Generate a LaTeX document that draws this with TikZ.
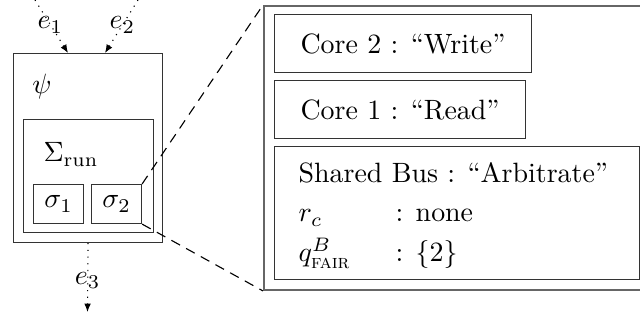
\documentclass[tikz,border=0pt]{standalone}
\usepackage{amsmath}
\usepackage{tikz}
\usetikzlibrary{calc,arrows.meta}
\newcommand{\pxu}{0.358pt}

\begin{document}
\begin{tikzpicture}[x=\pxu,y=\pxu,
  box/.style={draw=black!80,inner sep=0pt,anchor=north west},
  edge/.style={dotted,-{Latex[length=3pt,width=2.4pt]}}]
  \useasboundingbox (0,0) rectangle (640,320);
  \clip (0,0) rectangle (640,320);
  % process and its run
  \node[box,minimum width=149*\pxu,minimum height=189*\pxu] (psi) at (13,267) {};
  \node[box,minimum width=130*\pxu,minimum height=113*\pxu] (run) at (23,201) {};
  \node[box,minimum width=50*\pxu,minimum height=39*\pxu] (sig1) at (33,136) {$\sigma_1$};
  \node[box,minimum width=50*\pxu,minimum height=39*\pxu] (sig2) at (91,136) {$\sigma_2$};
  \node (psilab) at (42,233) {$\psi$};
  \node[anchor=base west,inner sep=0pt] (runlab) at (43,158) {$\Sigma_{\text{run}}$};
  \coordinate (in1) at (35,320);
  \coordinate (in2) at (138,320);
  \coordinate (out) at (87.5,8);
  \draw[edge] (in1) -- ($(psi.north west)+(55,0)$) node[pos=0.47] (e1) {$e_1$};
  \draw[edge] (in2) -- ($(psi.north west)+(92,0)$) node[pos=0.47] (e2) {$e_2$};
  \draw[edge] (psi.south) -- (out) node[pos=0.54] (e3) {$e_3$};
  % zoomed state
  \node[box,draw=black!60,line width=0.7pt,minimum width=400*\pxu,minimum height=284*\pxu] (zoom) at (263,315) {};
  \node[box,inner xsep=26*\pxu,minimum height=58*\pxu] (core2) at (274,306) {Core 2 : ``Write''};
  \node[box,inner xsep=26*\pxu,minimum height=58*\pxu] (core1) at (274,240) {Core 1 : ``Read''};
  \node[box,minimum width=365*\pxu,minimum height=133*\pxu] (bus) at (274,174) {};
  \node[anchor=base west,inner sep=0pt] (bustxt) at (298,137) {Shared Bus : ``Arbitrate''};
  \node[anchor=base west,inner sep=0pt] (rc) at (298,98) {$r_c$};
  \node[anchor=base west,inner sep=0pt] (rcval) at (395,98) {: none};
  \node[anchor=base west,inner sep=0pt] (q) at (298,58) {$q^{B}_{\textsc{fair}}$};
  \node[anchor=base west,inner sep=0pt] (qval) at (395,58) {: $\{2\}$};
  \draw[dash pattern=on 3.5pt off 2.5pt] (sig2.north east) -- (zoom.north west);
  \draw[dash pattern=on 3.5pt off 2.5pt] (sig2.south east) -- (zoom.south west);
\end{tikzpicture}
\end{document}
